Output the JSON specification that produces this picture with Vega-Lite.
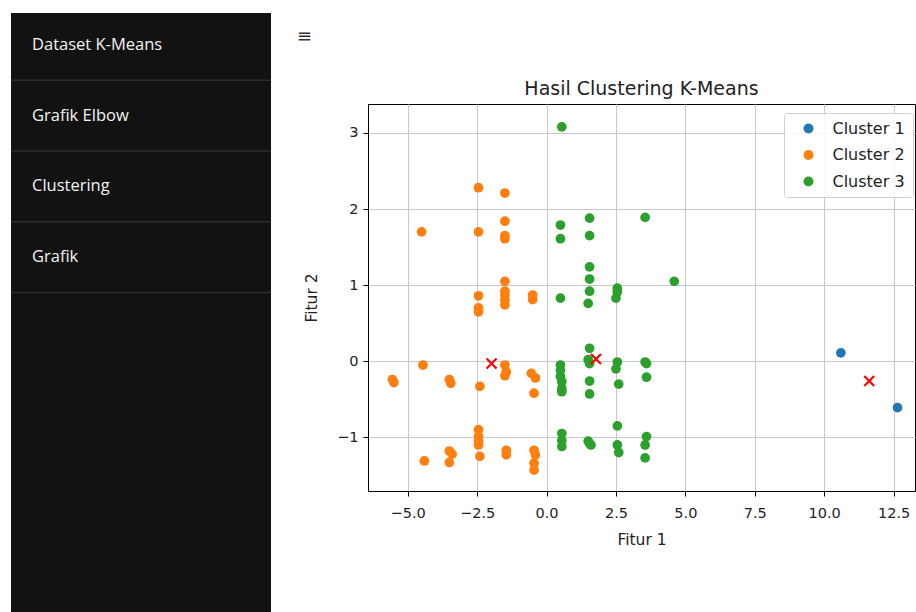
{
  "$schema": "https://vega.github.io/schema/vega-lite/v6.json",
  "background": "white",
  "padding": {"left": 10, "top": 13, "right": 0, "bottom": 0},
  "spacing": 25,
  "config": {"view": {"stroke": null}, "font": "DejaVu Sans"},
  "hconcat": [
    {
      "width": 260,
      "height": 599,
      "view": {"fill": "#121212", "stroke": null},
      "data": {"values": [
        {"item": "Dataset K-Means", "order": 0},
        {"item": "Grafik Elbow", "order": 1},
        {"item": "Clustering", "order": 2},
        {"item": "Grafik", "order": 3}
      ]},
      "layer": [
        {
          "mark": {"type": "rule", "color": "#2c2c2c", "strokeWidth": 1.5, "yOffset": 35.4},
          "encoding": {
            "y": {"field": "order", "type": "quantitative", "scale": {"domain": [-0.45, 8.02], "nice": false, "zero": false, "reverse": true}, "axis": null}
          }
        },
        {
          "mark": {"type": "text", "align": "left", "baseline": "middle", "dx": 21, "font": "Open Sans", "fontSize": 16.5, "color": "#f2f2f2"},
          "encoding": {
            "x": {"value": 0},
            "y": {"field": "order", "type": "quantitative", "scale": {"domain": [-0.45, 8.02], "nice": false, "zero": false, "reverse": true}, "axis": null},
            "text": {"field": "item", "type": "nominal"}
          }
        }
      ]
    },
    {
      "spacing": 0,
      "vconcat": [
        {
          "width": 20,
          "height": 66,
          "view": {"stroke": null},
          "data": {"values": [{"icon": "≡"}]},
          "mark": {"type": "text", "align": "left", "baseline": "middle", "dx": -71, "fontSize": 18, "color": "#333", "font": "DejaVu Sans"},
          "encoding": {
            "x": {"value": 0},
            "y": {"value": 24},
            "text": {"field": "icon", "type": "nominal"}
          }
        },
        {
          "width": 547,
          "height": 387,
          "view": {"stroke": "black", "strokeWidth": 1, "fill": "white"},
          "title": {"text": "Hasil Clustering K-Means", "fontSize": 19, "fontWeight": "normal", "font": "DejaVu Sans", "color": "#222", "offset": 5},
          "layer": [
            {
              "data": {"values": [
                {"x": 10.6, "y": 0.11, "cluster": "Cluster 1"},
                {"x": 12.64, "y": -0.61, "cluster": "Cluster 1"},
                {"x": -5.55, "y": -0.24, "cluster": "Cluster 2"},
                {"x": -5.5, "y": -0.28, "cluster": "Cluster 2"},
                {"x": -4.5, "y": 1.7, "cluster": "Cluster 2"},
                {"x": -4.45, "y": -0.05, "cluster": "Cluster 2"},
                {"x": -4.4, "y": -1.31, "cluster": "Cluster 2"},
                {"x": -3.5, "y": -0.24, "cluster": "Cluster 2"},
                {"x": -3.45, "y": -0.29, "cluster": "Cluster 2"},
                {"x": -3.5, "y": -1.18, "cluster": "Cluster 2"},
                {"x": -3.4, "y": -1.22, "cluster": "Cluster 2"},
                {"x": -3.5, "y": -1.33, "cluster": "Cluster 2"},
                {"x": -2.45, "y": 2.28, "cluster": "Cluster 2"},
                {"x": -2.45, "y": 1.7, "cluster": "Cluster 2"},
                {"x": -2.45, "y": 0.86, "cluster": "Cluster 2"},
                {"x": -2.45, "y": 0.7, "cluster": "Cluster 2"},
                {"x": -2.45, "y": 0.65, "cluster": "Cluster 2"},
                {"x": -2.4, "y": -0.33, "cluster": "Cluster 2"},
                {"x": -2.45, "y": -0.9, "cluster": "Cluster 2"},
                {"x": -2.45, "y": -0.99, "cluster": "Cluster 2"},
                {"x": -2.45, "y": -1.05, "cluster": "Cluster 2"},
                {"x": -2.45, "y": -1.1, "cluster": "Cluster 2"},
                {"x": -2.4, "y": -1.25, "cluster": "Cluster 2"},
                {"x": -1.5, "y": 2.21, "cluster": "Cluster 2"},
                {"x": -1.5, "y": 1.84, "cluster": "Cluster 2"},
                {"x": -1.5, "y": 1.65, "cluster": "Cluster 2"},
                {"x": -1.5, "y": 1.61, "cluster": "Cluster 2"},
                {"x": -1.5, "y": 1.05, "cluster": "Cluster 2"},
                {"x": -1.5, "y": 0.92, "cluster": "Cluster 2"},
                {"x": -1.5, "y": 0.87, "cluster": "Cluster 2"},
                {"x": -1.5, "y": 0.8, "cluster": "Cluster 2"},
                {"x": -1.5, "y": 0.74, "cluster": "Cluster 2"},
                {"x": -1.5, "y": -0.05, "cluster": "Cluster 2"},
                {"x": -1.45, "y": -0.14, "cluster": "Cluster 2"},
                {"x": -1.5, "y": -0.19, "cluster": "Cluster 2"},
                {"x": -1.45, "y": -1.17, "cluster": "Cluster 2"},
                {"x": -1.45, "y": -1.23, "cluster": "Cluster 2"},
                {"x": -0.5, "y": 0.87, "cluster": "Cluster 2"},
                {"x": -0.5, "y": 0.81, "cluster": "Cluster 2"},
                {"x": -0.55, "y": -0.16, "cluster": "Cluster 2"},
                {"x": -0.4, "y": -0.22, "cluster": "Cluster 2"},
                {"x": -0.45, "y": -0.42, "cluster": "Cluster 2"},
                {"x": -0.45, "y": -1.17, "cluster": "Cluster 2"},
                {"x": -0.4, "y": -1.23, "cluster": "Cluster 2"},
                {"x": -0.45, "y": -1.34, "cluster": "Cluster 2"},
                {"x": -0.45, "y": -1.43, "cluster": "Cluster 2"},
                {"x": 0.55, "y": 3.08, "cluster": "Cluster 3"},
                {"x": 0.5, "y": 1.79, "cluster": "Cluster 3"},
                {"x": 0.5, "y": 1.61, "cluster": "Cluster 3"},
                {"x": 0.5, "y": 0.83, "cluster": "Cluster 3"},
                {"x": 0.5, "y": -0.05, "cluster": "Cluster 3"},
                {"x": 0.5, "y": -0.12, "cluster": "Cluster 3"},
                {"x": 0.5, "y": -0.2, "cluster": "Cluster 3"},
                {"x": 0.55, "y": -0.27, "cluster": "Cluster 3"},
                {"x": 0.55, "y": -0.36, "cluster": "Cluster 3"},
                {"x": 0.55, "y": -0.4, "cluster": "Cluster 3"},
                {"x": 0.55, "y": -0.95, "cluster": "Cluster 3"},
                {"x": 0.55, "y": -1.04, "cluster": "Cluster 3"},
                {"x": 0.55, "y": -1.12, "cluster": "Cluster 3"},
                {"x": 1.55, "y": 1.88, "cluster": "Cluster 3"},
                {"x": 1.55, "y": 1.65, "cluster": "Cluster 3"},
                {"x": 1.55, "y": 1.24, "cluster": "Cluster 3"},
                {"x": 1.55, "y": 1.08, "cluster": "Cluster 3"},
                {"x": 1.55, "y": 0.92, "cluster": "Cluster 3"},
                {"x": 1.5, "y": 0.76, "cluster": "Cluster 3"},
                {"x": 1.55, "y": 0.17, "cluster": "Cluster 3"},
                {"x": 1.5, "y": 0.02, "cluster": "Cluster 3"},
                {"x": 1.55, "y": -0.03, "cluster": "Cluster 3"},
                {"x": 1.55, "y": -0.26, "cluster": "Cluster 3"},
                {"x": 1.55, "y": -0.43, "cluster": "Cluster 3"},
                {"x": 1.5, "y": -1.05, "cluster": "Cluster 3"},
                {"x": 1.55, "y": -1.08, "cluster": "Cluster 3"},
                {"x": 1.6, "y": -1.1, "cluster": "Cluster 3"},
                {"x": 2.55, "y": 0.96, "cluster": "Cluster 3"},
                {"x": 2.55, "y": 0.91, "cluster": "Cluster 3"},
                {"x": 2.5, "y": 0.83, "cluster": "Cluster 3"},
                {"x": 2.55, "y": -0.01, "cluster": "Cluster 3"},
                {"x": 2.5, "y": -0.1, "cluster": "Cluster 3"},
                {"x": 2.6, "y": -0.3, "cluster": "Cluster 3"},
                {"x": 2.55, "y": -0.85, "cluster": "Cluster 3"},
                {"x": 2.55, "y": -1.1, "cluster": "Cluster 3"},
                {"x": 2.6, "y": -1.2, "cluster": "Cluster 3"},
                {"x": 3.55, "y": 1.89, "cluster": "Cluster 3"},
                {"x": 3.55, "y": -0.01, "cluster": "Cluster 3"},
                {"x": 3.6, "y": -0.03, "cluster": "Cluster 3"},
                {"x": 3.6, "y": -0.21, "cluster": "Cluster 3"},
                {"x": 3.6, "y": -0.99, "cluster": "Cluster 3"},
                {"x": 3.55, "y": -1.1, "cluster": "Cluster 3"},
                {"x": 3.55, "y": -1.27, "cluster": "Cluster 3"},
                {"x": 4.6, "y": 1.05, "cluster": "Cluster 3"}
              ]},
              "mark": {"type": "point", "shape": "circle", "filled": true, "size": 95, "opacity": 1},
              "encoding": {
                "x": {
                  "field": "x", "type": "quantitative",
                  "scale": {"domain": [-6.43, 13.27], "nice": false, "zero": false},
                  "axis": {
                    "title": "Fitur 1", "values": [-5, -2.5, 0, 2.5, 5, 7.5, 10, 12.5], "format": ".1f",
                    "grid": true, "gridColor": "#c8c8c8", "gridWidth": 1,
                    "domainColor": "black", "tickColor": "black", "tickSize": 5,
                    "labelFont": "DejaVu Sans", "labelFontSize": 14.5, "labelColor": "#222", "labelPadding": 10,
                    "titleFont": "DejaVu Sans", "titleFontSize": 15.5, "titleFontWeight": "normal", "titleColor": "#222", "titlePadding": 13
                  }
                },
                "y": {
                  "field": "y", "type": "quantitative",
                  "scale": {"domain": [-1.705, 3.38], "nice": false, "zero": false},
                  "axis": {
                    "title": "Fitur 2", "values": [-1, 0, 1, 2, 3], "format": "d",
                    "grid": true, "gridColor": "#c8c8c8", "gridWidth": 1,
                    "domainColor": "black", "tickColor": "black", "tickSize": 5,
                    "labelFont": "DejaVu Sans", "labelFontSize": 14.5, "labelColor": "#222", "labelPadding": 5,
                    "titleFont": "DejaVu Sans", "titleFontSize": 15.5, "titleFontWeight": "normal", "titleColor": "#222", "titlePadding": 17
                  }
                },
                "color": {
                  "field": "cluster", "type": "nominal",
                  "scale": {"domain": ["Cluster 1", "Cluster 2", "Cluster 3"], "range": ["#1f77b4", "#ff7f0e", "#2ca02c"]},
                  "legend": {
                    "title": null, "orient": "none", "legendX": 773, "legendY": 100,
                    "fillColor": "rgba(255,255,255,0.85)", "strokeColor": "#d0d0d0", "cornerRadius": 3,
                    "padding": 7.5, "symbolType": "circle", "symbolSize": 100, "symbolOffset": 9, "symbolOpacity": 1,
                    "labelOffset": 16, "labelFont": "DejaVu Sans", "labelFontSize": 16, "labelColor": "#222", "rowPadding": 10.5
                  }
                }
              }
            },
            {
              "data": {"values": [
                {"x": 11.62, "y": -0.26},
                {"x": -1.98, "y": -0.03},
                {"x": 1.78, "y": 0.03}
              ]},
              "mark": {"type": "point", "shape": "M-1,-1L1,1M1,-1L-1,1", "filled": false, "stroke": "#ff0000", "strokeWidth": 2.2, "size": 100, "opacity": 1},
              "encoding": {
                "x": {"field": "x", "type": "quantitative"},
                "y": {"field": "y", "type": "quantitative"}
              }
            }
          ]
        }
      ]
    }
  ]
}
